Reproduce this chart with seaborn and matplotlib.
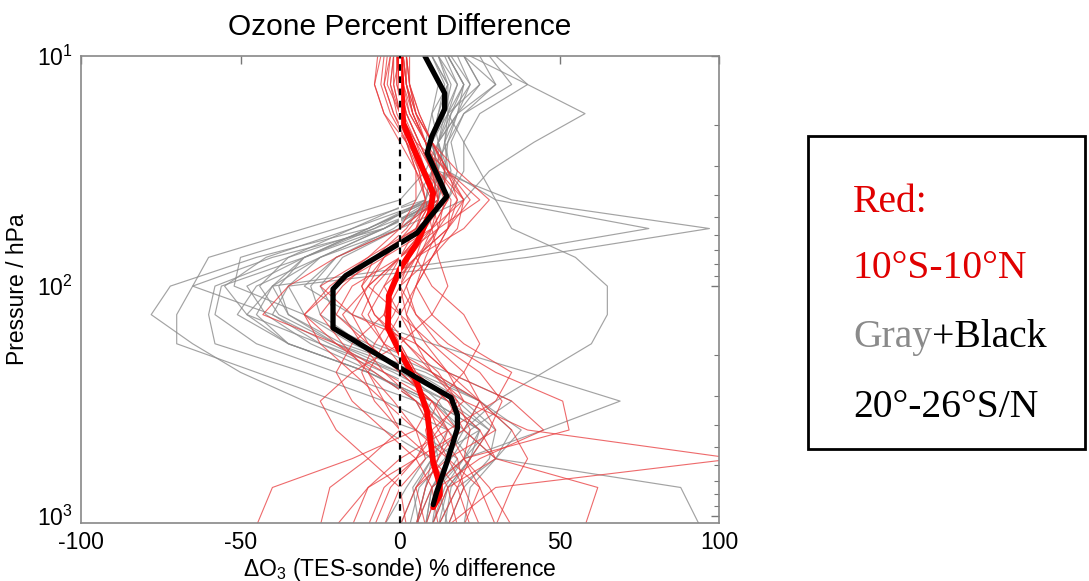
import numpy as np
import pandas as pd
import matplotlib
matplotlib.use("Agg")
import matplotlib.pyplot as plt
import seaborn as sns
from matplotlib.ticker import LogLocator, FixedLocator
from matplotlib.patches import Rectangle

# ---------------- data ----------------
levels = [1100, 750, 562, 422, 316, 237, 178, 133, 100, 75, 56.2, 42.2, 31.6, 23.7, 17.8, 13.3, 10]

gray_profiles = [
    [5, 8, 10, -5, -30, -50, -65, -78, -72, -45, -10, 10, 12, 14, 15, 18, 12],
    [10, 12, 18, 5, -20, -45, -70, -70, -65, -40, -5, 12, 14, 15, 18, 20, 15],
    [12, 15, 22, 15, -5, -30, -58, -60, -58, -35, -8, 8, 10, 12, 15, 25, 20],
    [8, 10, 15, 18, 5, -20, -45, -58, -56, -30, -5, 15, 20, 20, 25, 40, 30],
    [15, 12, 20, 25, 10, -10, -35, -51, -45, -25, 0, 20, 28, 42, 58, 40, 22],
    [10, 15, 22, 25, 10, -10, -35, -48, -40, 25, 78, 30, 15, 10, 15, 20, 15],
    [5, 10, 20, 28, 15, -5, -25, -40, -35, 40, 97, 35, 12, 12, 18, 30, 20],
    [8, 12, 15, 20, 30, 45, 60, 65, 65, 55, 35, 30, 25, 20, 15, 15, 10],
    [10, 14, 20, 45, 69, 40, 10, -15, -30, -20, 0, 10, 15, 12, 10, 15, 12],
    [94, 88, 30, 20, 10, 0, -20, -35, -40, -25, -5, 10, 12, 10, 12, 15, 10],
    [0, 5, 10, 15, 8, -10, -35, -45, -40, -30, -10, 8, 10, 8, 10, 12, 8],
    [-5, 2, 8, 20, 25, 5, -20, -38, -44, -35, -15, 5, 10, 15, 20, 30, 25],
    [12, 18, 30, 38, 25, 10, -10, -30, -35, -25, -5, 12, 15, 14, 16, 22, 18],
    [5, 8, 12, 10, 5, -8, -28, -42, -48, -30, -8, 15, 18, 16, 20, 35, 28],
    [15, 20, 28, 30, 20, 5, -15, -30, -52, -50, -20, 8, 12, 10, 12, 14, 10],
    [3, 6, 14, 18, 12, 2, -12, -25, -28, -20, -2, 10, 12, 10, 14, 16, 12],
    [20, 22, 30, 35, 25, 8, -18, -35, -38, -30, -10, 10, 14, 12, 16, 20, 15],
    [8, 10, 16, 22, 35, 15, -8, -20, -25, -18, 0, 12, 14, 12, 18, 25, 20],
    [6, 4, 10, 25, 15, -2, -22, -40, -65, -60, -30, 0, 8, 12, 14, 18, 14],
    [14, 16, 22, 28, 18, 0, -25, -48, -55, -42, -15, 10, 16, 14, 18, 22, 16],
]

red_profiles = [
    [-45, -40, -15, 5, 10, 0, -10, -20, -15, 0, 5, 8, 5, 2, 0, -2, 0],
    [-25, -22, -10, 0, -5, -15, -25, -30, -20, -5, 10, 15, 8, 3, -2, -5, -3],
    [58, 62, 30, 20, 15, 5, 0, -5, -2, 5, 12, 14, 10, 6, 2, 0, 1],
    [15, 30, 105, 40, 20, 10, 5, 0, -5, 0, 10, 20, 12, 8, 4, 1, 0],
    [5, 10, 20, 53, 51, 30, 15, 5, 0, 5, 15, 22, 15, 10, 5, 2, 1],
    [-10, -5, 5, 10, 20, 15, 5, -15, -25, -10, 5, 10, 10, 5, 0, -3, -2],
    [20, 25, 15, 10, 5, -5, -20, -43, -35, -20, 0, 12, 12, 8, 3, 1, 0],
    [0, 5, 15, 30, 25, 10, -5, -10, -5, 5, 20, 28, 18, 10, 5, 2, 1],
    [12, 10, 5, -5, -15, -20, -15, -5, 0, 10, 15, 18, 12, 8, 4, 2, 2],
    [30, 25, 20, 15, 30, 35, 20, 10, 5, 10, 18, 20, 15, 10, 6, 3, 2],
    [-15, -10, 0, 15, 10, -5, -12, -18, -10, 0, 8, 12, 10, 6, 2, 0, -1],
    [8, 12, 25, 45, 35, 15, 5, 2, 5, 10, 15, 16, 10, 6, 2, -1, -1],
    [2, 0, -10, -20, -25, -15, 0, 10, 15, 12, 10, 8, 6, 2, -2, -5, -4],
    [18, 15, 10, 8, 12, 20, 25, 20, 10, 5, 8, 12, 8, 2, -5, -8, -6],
    [25, 20, 15, 5, -5, -10, -5, 0, 5, 8, 12, 10, 5, 0, -5, -8, -7],
    [10, 15, 30, 25, 15, 5, 0, -8, -12, -5, 5, 15, 12, 8, 3, 0, 0],
    [-20, -10, 5, 20, 25, 20, 10, 0, -10, -5, 3, 10, 8, 4, 0, -2, -2],
    [5, 8, 12, 15, 5, -8, -20, -30, -22, -10, 0, 5, 5, 2, -3, -6, -5],
    [15, 20, 18, 12, 8, 2, -5, -12, -8, 0, 8, 14, 14, 10, 6, 3, 2],
    [35, 28, 20, 22, 18, 10, 2, -5, -3, 5, 15, 20, 14, 8, 4, 2, 1],
    [12, 18, 22, 28, 32, 25, 12, 5, 2, 6, 12, 18, 15, 10, 5, 3, 2],
    [-5, 0, 8, 5, -2, -10, -18, -25, -18, -8, 5, 10, 8, 5, 1, -1, -1],
    [22, 18, 10, 0, -8, -12, -8, -2, 2, 6, 10, 12, 10, 8, 5, 3, 3],
    [8, 5, 12, 18, 10, 0, -10, -15, -10, 0, 12, 25, 15, 5, 0, -4, -3],
    [30, 35, 40, 35, 25, 15, 8, 2, 0, 3, 10, 15, 12, 8, 4, 2, 1],
    [-8, -3, 5, 12, 18, 12, 2, -8, -12, -8, 2, 8, 6, 3, -1, -3, -2],
]

black_mean_p = [890, 785, 584, 415, 363, 305, 227, 152, 103, 90, 72, 58.8, 40.7, 26.4, 22.3, 17, 14.5, 10]
black_mean_x = [10.4, 11.5, 14.7, 18, 18, 16, 0, -21, -21, -17, -5.3, 5.3, 14.7, 8.5, 10, 14, 14, 7.8]

red_mean_p = [914, 810, 730, 584, 352, 262, 194, 152, 110, 84, 65, 48, 39.4, 27.2, 19.6, 10]
red_mean_x = [10.4, 12.5, 12.5, 10.4, 8.5, 5.3, 0, -3.8, -3.5, 0, 5.3, 9.4, 10.4, 5.3, 1, 0]

legend_lines = ["Red:", "10°S-10°N", "Gray", "+Black", "20°-26°S/N"]

# ---------------- build frames ----------------
def long_frame(profiles, tag):
    rows = []
    for i, prof in enumerate(profiles):
        for p, v in zip(levels, prof):
            rows.append({"pct": v, "p": p, "profile": f"{tag}{i}"})
    return pd.DataFrame(rows)

df_gray = long_frame(gray_profiles, "g")
df_red = long_frame(red_profiles, "r")
df_bm = pd.DataFrame({"pct": black_mean_x, "p": black_mean_p})
df_rm = pd.DataFrame({"pct": red_mean_x, "p": red_mean_p})

# ---------------- style ----------------
sns.set_style("white")
plt.rcParams["font.family"] = ["Liberation Sans", "DejaVu Sans"]
plt.rcParams["mathtext.fontset"] = "custom"
plt.rcParams["mathtext.rm"] = "Liberation Sans"
plt.rcParams["mathtext.it"] = "Liberation Sans:italic"
plt.rcParams["mathtext.bf"] = "Liberation Sans:bold"
plt.rcParams["text.color"] = "black"
plt.rcParams["axes.labelcolor"] = "black"

fig = plt.figure(figsize=(10.89, 5.81), dpi=100)
ax = fig.add_axes([81 / 1089, 1 - 523 / 581, (719 - 81) / 1089, (523 - 56) / 581])

sns.lineplot(data=df_gray, x="pct", y="p", units="profile", estimator=None, sort=False,
             color="#8c8c8c", lw=0.85, alpha=0.8, ax=ax, legend=False)
sns.lineplot(data=df_red, x="pct", y="p", units="profile", estimator=None, sort=False,
             color="#e8383a", lw=0.8, alpha=0.75, ax=ax, legend=False)
sns.lineplot(data=df_rm, x="pct", y="p", estimator=None, sort=False,
             color="#ff0000", lw=4.2, ax=ax, legend=False)
sns.lineplot(data=df_bm, x="pct", y="p", estimator=None, sort=False,
             color="black", lw=3.8, ax=ax, legend=False)

ax.axvline(0, color="white", lw=1.6, zorder=5)
ax.axvline(0, color="black", lw=1.6, ls=(0, (3, 2.5)), zorder=6)

ax.set_yscale("log")
ax.set_ylim(1070, 10)
ax.set_xlim(-100, 100)
ax.set_xticks([-100, -50, 0, 50, 100])
ax.set_xticklabels(["-100", "-50", "0", "50", "100"])
ax.yaxis.set_major_locator(FixedLocator([10, 100, 1000]))
ax.yaxis.set_minor_locator(LogLocator(base=10, subs=np.arange(2, 10)))
ax.yaxis.set_minor_formatter(matplotlib.ticker.NullFormatter())
ax.set_yticklabels([r"$\mathdefault{10^{1}}$", r"$\mathdefault{10^{2}}$", r"$\mathdefault{10^{3}}$"])

ax.tick_params(which="both", direction="in", top=True, right=True, color="#777777",
               labelsize=16.5, labelcolor="black")
ax.tick_params(which="major", length=6, width=1.0, pad=6)
ax.tick_params(which="minor", length=3.5, width=0.8)
for s in ax.spines.values():
    s.set_color("#888888")
    s.set_linewidth(1.2)

ax.set_xlabel(r"$\Delta$O$_3$ (TES-sonde) % difference", fontsize=16.5, labelpad=1, color="black")
ax.set_ylabel("Pressure / hPa", fontsize=16.5, labelpad=6, color="black")
ax.set_title("Ozone Percent Difference", fontsize=21.5, pad=15, color="black")

# ---------------- legend box ----------------
fig.patches.append(Rectangle((808 / 1089, 1 - 449 / 581), (1085 - 808) / 1089, (449 - 136) / 581,
                             transform=fig.transFigure, fill=False, edgecolor="black", lw=2))
serif = ["Liberation Serif", "DejaVu Serif"]
fs = 28.5
x0 = 853 / 1089
fig.text(x0, 1 - 212 / 581, legend_lines[0], color="#e00000", fontsize=fs, family=serif, va="baseline")
fig.text(x0, 1 - 278 / 581, legend_lines[1], color="#e00000", fontsize=fs, family=serif, va="baseline")
tg = fig.text(x0, 1 - 347 / 581, legend_lines[2], color="#8a8a8a", fontsize=fs, family=serif, va="baseline")
fig.canvas.draw()
bb = tg.get_window_extent()
fig.text(bb.x1 / fig.bbox.width, 1 - 347 / 581, legend_lines[3], color="black", fontsize=fs,
         family=serif, va="baseline")
fig.text(x0, 1 - 417 / 581, legend_lines[4], color="black", fontsize=fs, family=serif, va="baseline")

fig.savefig("out.png", dpi=100)
